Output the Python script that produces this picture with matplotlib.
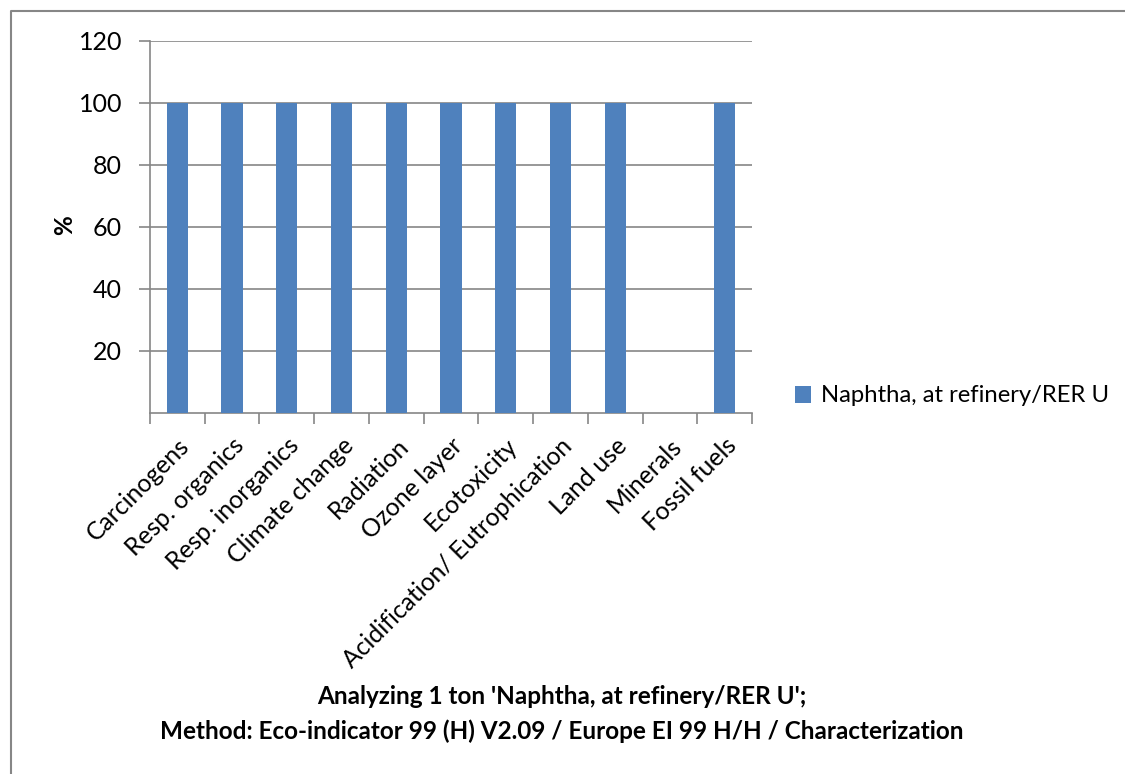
import numpy as np
import matplotlib.pyplot as plt
from matplotlib.lines import Line2D

categories = ["Carcinogens", "Resp. organics", "Resp. inorganics", "Climate change",
              "Radiation", "Ozone layer", "Ecotoxicity", "Acidification/ Eutrophication",
              "Land use", "Minerals", "Fossil fuels"]
naphtha = [100, 100, 100, 100, 100, 100, 100, 100, 100, 0, 100]
yticks = [20, 40, 60, 80, 100, 120]

plt.rcParams['font.family'] = ['Lato', 'DejaVu Sans']

fig = plt.figure(figsize=(11.25, 7.74), dpi=100)
ax = fig.add_axes([150 / 1125, 1 - 413 / 774, 602 / 1125, 372 / 774])

x = np.arange(len(categories))
ax.bar(x, naphtha, width=0.39, color='#4F81BD', zorder=3,
       label="Naphtha, at refinery/RER U")

ax.set_xlim(-0.5, len(categories) - 0.5)
ax.set_ylim(0, 120)
ax.set_yticks(yticks)
ax.set_yticklabels([str(v) for v in yticks], fontsize=18)
ax.yaxis.grid(True, color='#868686', linewidth=1.2, zorder=0)

# category ticks sit on the boundaries between bars
ax.set_xticks(np.arange(len(categories) + 1) - 0.5)
ax.set_xticklabels([])
ax.set_xticks(x, minor=True)
ax.set_xticklabels(categories, minor=True, rotation=45, ha='right',
                   rotation_mode='anchor', fontsize=17.8)
ax.tick_params(axis='x', which='minor', length=0, pad=15)
ax.tick_params(axis='x', which='major', length=8, width=1.2, color='#868686')
ax.tick_params(axis='y', length=8, width=1.2, color='#868686', pad=12)

for side in ['top', 'right']:
    ax.spines[side].set_visible(False)
for side in ['left', 'bottom']:
    ax.spines[side].set_color('#868686')
    ax.spines[side].set_linewidth(1.2)

ax.set_ylabel("%", fontsize=17.5, fontweight='bold')
ax.yaxis.set_label_coords((76 - 150) / 602, 1 - (225 - 41) / 372)

fig.legend(loc='center left', bbox_to_anchor=(773 / 1125, 1 - 396 / 774),
           frameon=False, fontsize=17.2, handlelength=0.7, handleheight=0.7,
           handletextpad=0.4)

fig.text(562 / 1125, 1 - 697 / 774, "Analyzing 1 ton 'Naphtha, at refinery/RER U';",
         ha='center', va='center', fontsize=17.5, fontweight='bold')
fig.text(562 / 1125, 1 - 731 / 774,
         "Method: Eco-indicator 99 (H) V2.09 / Europe EI 99 H/H / Characterization",
         ha='center', va='center', fontsize=17.5, fontweight='bold')

# chart area frame (left and top edges)
fig.add_artist(Line2D([11 / 1125, 11 / 1125, 1], [0, 1 - 11 / 774, 1 - 11 / 774],
                      color='#868686', linewidth=1.5, transform=fig.transFigure))

fig.savefig('out.png', dpi=100)
